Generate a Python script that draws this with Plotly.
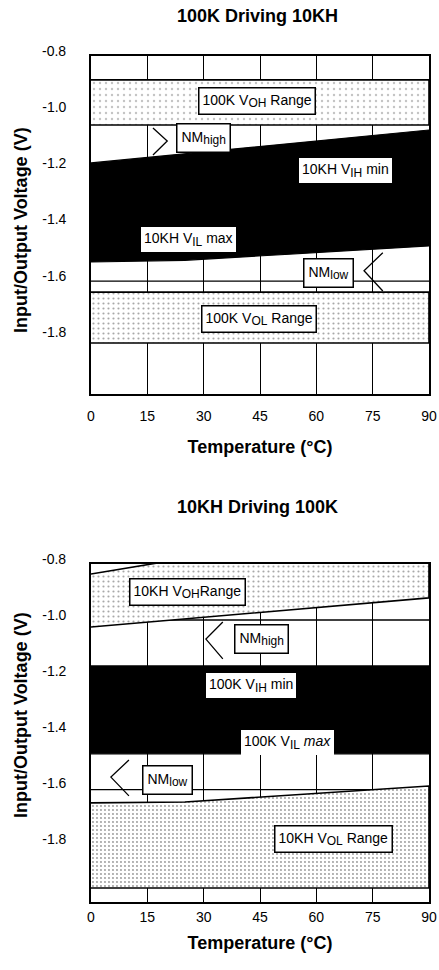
import plotly.graph_objects as go

# ---------------- data ----------------
tick_x = [0, 15, 30, 45, 60, 75, 90]
tick_y = [-1.0, -1.2, -1.4, -1.6, -1.8]
tick_y_top_label = -0.8

# Top chart: 100K driving 10KH
top_band_t = [0, 90]
top_voh_max = [-0.904, -0.904]
top_voh_min = [-1.064, -1.064]
top_vol_max = [-1.658, -1.658]
top_vol_min = [-1.839, -1.839]
top_vih_t = [0, 90]
top_vih_min = [-1.199, -1.082]
top_vil_t = [0, 25, 90]
top_vil_max = [-1.551, -1.545, -1.494]
top_hlines = [-1.619]
top_nmhigh_arrow_x = [16.5, 20.3, 16.5]
top_nmhigh_arrow_y = [-1.075, -1.121, -1.171]
top_nmlow_arrow_x = [77.7, 72.7, 77.7]
top_nmlow_arrow_y = [-1.518, -1.582, -1.654]

# Bottom chart: 10KH driving 100K
bot_voh_t = [0, 25, 75, 90]
bot_voh_max = [-0.854, -0.798, -0.69, -0.66]
bot_voh_min_t = [0, 90]
bot_voh_min = [-1.043, -0.939]
bot_band_t = [0, 90]
bot_vih_min = [-1.182, -1.182]
bot_vil_max = [-1.496, -1.496]
bot_vol_t = [0, 25, 90]
bot_vol_max = [-1.671, -1.668, -1.611]
bot_vol_min = [-1.975, -1.975, -1.975]
bot_hlines = [-1.018, -1.624]
bot_nmhigh_arrow_x = [35.1, 30.6, 35.1]
bot_nmhigh_arrow_y = [-1.025, -1.086, -1.157]
bot_nmlow_arrow_x = [10.1, 5.3, 10.1]
bot_nmlow_arrow_y = [-1.518, -1.579, -1.646]


def sub(s):
    return f'<sub><span style="font-size:12px">{s}</span></sub>'


top_labels = ["100K V" + sub("OH") + " Range", "NM" + sub("high"), "10KH V" + sub("IH") + " min",
              "10KH V" + sub("IL") + " max", "NM" + sub("low"), "100K V" + sub("OL") + " Range"]
top_label_x = [44.2, 29.9, 67.8, 26.0, 63.2, 44.7]
top_label_y = [-0.979, -1.112, -1.225, -1.47, -1.59, -1.752]
top_label_border = [True, True, False, False, True, True]
top_label_pad = [3, 4, 3, 3, 4, 3]

bot_labels = ["10KH V" + sub("OH") + "Range", "NM" + sub("high"), "100K V" + sub("IH") + " min",
              "100K V" + sub("IL") + " <i>max</i>", "NM" + sub("low"), "10KH V" + sub("OL") + " Range"]
bot_label_x = [25.8, 45.3, 42.6, 52.4, 20.5, 64.5]
bot_label_y = [-0.918, -1.086, -1.252, -1.455, -1.59, -1.80]
bot_label_border = [True, True, False, False, True, True]
bot_label_pad = [3, 4, 3, 3, 4, 3]

titles = ["100K Driving 10KH", "10KH Driving 100K"]
x_title = "Temperature (°C)"
y_title = "Input/Output Voltage (V)"

# ---------------- figure ----------------
FONT = "Liberation Sans, Arial, Helvetica, sans-serif"
W, H = 439, 970
fig = go.Figure()


def band(xa, ya, t_up, up, t_lo, lo, kind, fg="#9a9a9a", size=5, solidity=0.15):
    xs = list(t_up) + list(t_lo)[::-1]
    ys = list(up) + list(lo)[::-1]
    if kind == "black":
        fig.add_trace(go.Scatter(x=xs, y=ys, fill="toself", fillcolor="black", mode="lines",
                                 line=dict(color="black", width=1.2), xaxis=xa, yaxis=ya,
                                 hoverinfo="skip", showlegend=False))
    else:
        fig.add_trace(go.Scatter(x=xs, y=ys, fill="toself", mode="lines",
                                 fillpattern=dict(shape=".", size=size, solidity=solidity,
                                                  fgcolor=fg, bgcolor="white",
                                                  fillmode="replace"),
                                 line=dict(color="black", width=1.6), xaxis=xa, yaxis=ya,
                                 hoverinfo="skip", showlegend=False))


def arrow(xa, ya, xs, ys):
    fig.add_trace(go.Scatter(x=xs, y=ys, mode="lines", line=dict(color="black", width=1.3),
                             xaxis=xa, yaxis=ya, hoverinfo="skip", showlegend=False))


# top
band("x", "y", top_band_t, top_voh_max, top_band_t, top_voh_min, "stipple", fg="#c4c4c4", size=6, solidity=0.12)
band("x", "y", top_band_t, top_vol_max, top_band_t, top_vol_min, "stipple", fg="#a8a8a8", size=5, solidity=0.15)
band("x", "y", top_vih_t, top_vih_min, top_vil_t, top_vil_max, "black")
arrow("x", "y", top_nmhigh_arrow_x, top_nmhigh_arrow_y)
arrow("x", "y", top_nmlow_arrow_x, top_nmlow_arrow_y)
# bottom
band("x2", "y2", bot_voh_t, bot_voh_max, bot_voh_min_t, bot_voh_min, "stipple", fg="#a8a8a8", size=5, solidity=0.15)
band("x2", "y2", bot_vol_t, bot_vol_max, bot_vol_t, bot_vol_min, "stipple", fg="#999999", size=4, solidity=0.18)
band("x2", "y2", bot_band_t, bot_vih_min, bot_band_t, bot_vil_max, "black")
arrow("x2", "y2", bot_nmhigh_arrow_x, bot_nmhigh_arrow_y)
arrow("x2", "y2", bot_nmlow_arrow_x, bot_nmlow_arrow_y)

shapes = []
for v in top_hlines:
    shapes.append(dict(type="line", xref="x domain", yref="y", x0=0, x1=1, y0=v, y1=v,
                       line=dict(color="black", width=1.3), layer="below"))
for v in bot_hlines:
    shapes.append(dict(type="line", xref="x2 domain", yref="y2", x0=0, x1=1, y0=v, y1=v,
                       line=dict(color="black", width=1.3), layer="below"))

annotations = []


def add_labels(labels, xs, ys, borders, pads, xr, yr):
    for txt, x, y, b, p in zip(labels, xs, ys, borders, pads):
        annotations.append(dict(text=txt, x=x, y=y, xref=xr, yref=yr, showarrow=False,
                                font=dict(family=FONT, size=14, color="black"),
                                bgcolor="white", bordercolor="black" if b else "white",
                                borderwidth=1.5 if b else 0, borderpad=p))


add_labels(top_labels, top_label_x, top_label_y, top_label_border, top_label_pad, "x", "y")
add_labels(bot_labels, bot_label_x, bot_label_y, bot_label_border, bot_label_pad, "x2", "y2")

# chart titles
for txt, yp in zip(titles, [1 - 16 / H, 1 - 507 / H]):
    annotations.append(dict(text=txt, x=0.494, y=yp, xref="paper", yref="paper",
                            showarrow=False, xanchor="center", yanchor="middle",
                            font=dict(family=FONT, size=18, color="black", weight="bold")))
# y titles
for yp in [1 - 230 / H, 1 - 715 / H]:
    annotations.append(dict(text=y_title, x=0, y=yp, xref="paper", yref="paper",
                            showarrow=False, xanchor="center", yanchor="middle",
                            xshift=21 - 91, textangle=-90,
                            font=dict(family=FONT, size=18, color="black", weight="bold")))

y_ranges = {"y": [-2.02, -0.819], "y2": [-2.025, -0.818]}
# -0.8 tick labels (just above the frame), placed via axis-domain fraction
for yr, rng in y_ranges.items():
    frac = (tick_y_top_label - rng[0]) / (rng[1] - rng[0])
    annotations.append(dict(text=f"{tick_y_top_label:.1f}", x=0, y=frac,
                            xref="paper", yref=f"{yr} domain", showarrow=False, xanchor="right",
                            yanchor="middle", xshift=-23,
                            font=dict(family=FONT, size=14, color="black")))

tick_y_text = [f"{v:.1f}" for v in tick_y]
axis_common = dict(showline=True, mirror=True, linecolor="black", linewidth=1.6,
                   zeroline=False, ticks="", tickfont=dict(family=FONT, size=14, color="black"))

fig.update_layout(
    width=W, height=H, autosize=False,
    margin=dict(l=91, r=10, t=0, b=0, pad=0),
    paper_bgcolor="white", plot_bgcolor="white",
    showlegend=False,
    xaxis=dict(domain=[0, 1], anchor="y", range=[0, 90], tickvals=tick_x,
               showgrid=True, gridcolor="black", gridwidth=1.3, ticklabelstandoff=8,
               title=dict(text=x_title, standoff=18,
                          font=dict(family=FONT, size=18, color="black", weight="bold")),
               **axis_common),
    yaxis=dict(domain=[1 - 394 / H, 1 - 56 / H], anchor="x", range=y_ranges["y"],
               tickvals=tick_y, ticktext=tick_y_text, showgrid=False, ticklabelstandoff=20,
               **axis_common),
    xaxis2=dict(domain=[0, 1], anchor="y2", range=[0, 90], tickvals=tick_x,
                showgrid=True, gridcolor="black", gridwidth=1.3, ticklabelstandoff=1,
                title=dict(text=x_title, standoff=13,
                           font=dict(family=FONT, size=18, color="black", weight="bold")),
                **axis_common),
    yaxis2=dict(domain=[1 - 902 / H, 1 - 564 / H], anchor="x2", range=y_ranges["y2"],
                tickvals=tick_y, ticktext=tick_y_text, showgrid=False, ticklabelstandoff=20,
                **axis_common),
    shapes=shapes,
    annotations=annotations,
)

fig.write_html("out.html", config={"displayModeBar": False},
               post_script="document.body.style.margin='0';")
